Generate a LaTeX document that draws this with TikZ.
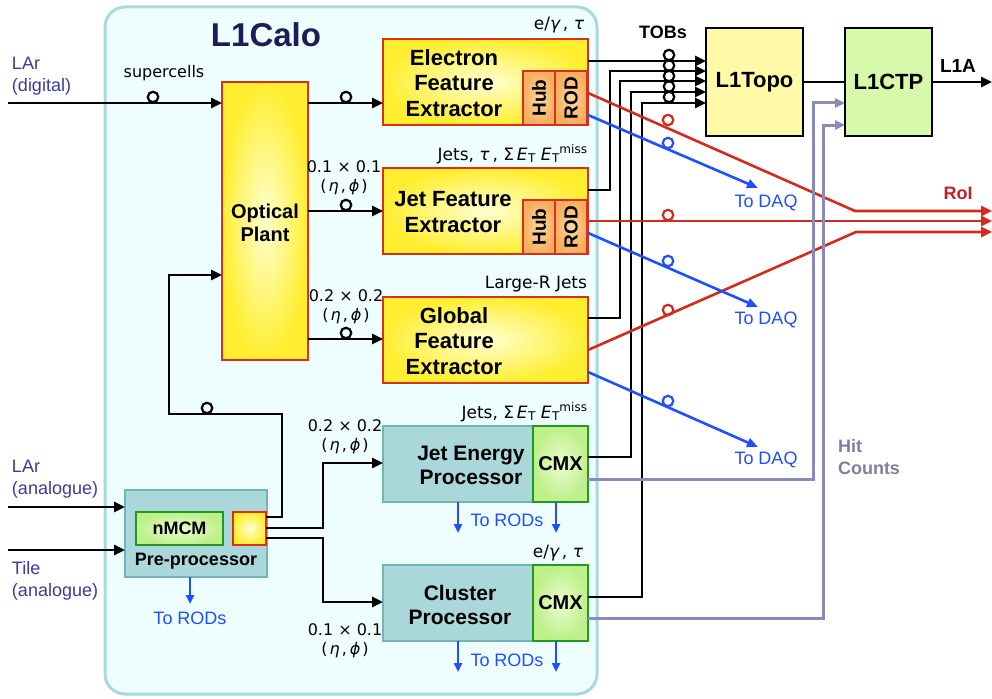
\documentclass[tikz,border=0pt]{standalone}
\usepackage{fontspec}
\setmainfont{Liberation Sans}
\newfontfamily\dvs{DejaVu Sans}
\usetikzlibrary{arrows.meta,calc}
\definecolor{calofill}{HTML}{EEFEFF}
\definecolor{calodraw}{HTML}{A8DADD}
\definecolor{ylight}{HTML}{FFFFD2}
\definecolor{ydark}{HTML}{FFEE30}
\definecolor{redb}{HTML}{D9301E}
\definecolor{olight}{HTML}{FCD9A0}
\definecolor{odark}{HTML}{F5AE5E}
\definecolor{cteal}{HTML}{A9D7DA}
\definecolor{tealdraw}{HTML}{72B5B9}
\definecolor{glight}{HTML}{EAFDCC}
\definecolor{gdark}{HTML}{BDEF8A}
\definecolor{gdraw}{HTML}{229922}
\definecolor{topofill}{HTML}{FFF9A8}
\definecolor{ctpfill}{HTML}{D6F9AC}
\definecolor{navy}{HTML}{1C1C56}
\definecolor{inblue}{HTML}{3B3B9B}
\definecolor{daqblue}{HTML}{1F4FFF}
\definecolor{redl}{HTML}{D42A1E}
\definecolor{roitext}{HTML}{BF2127}
\definecolor{hitl}{HTML}{8B8BBB}
\definecolor{hitt}{HTML}{7E7EA2}
\newcommand\ET{{\itshape E}\kern0.5pt\raisebox{-0.3ex}{\fontsize{12}{12}\selectfont T}}
\newcommand\ETmiss{{\itshape E}\kern0.5pt\raisebox{-0.3ex}{\fontsize{12}{12}\selectfont T}\raisebox{0.75ex}{\fontsize{12}{12}\selectfont miss}}
\newcommand\etaphi{(\kern2pt{\itshape η}\kern2pt,\kern3pt{\itshape ϕ}\kern2pt)}
\begin{document}
\begin{tikzpicture}[x=1pt,y=-1pt,
  every node/.style={inner sep=0pt,outer sep=0pt},
  calobox/.style={draw=calodraw,fill=calofill,line width=3pt,rounded corners=20pt,anchor=north west},
  ybox/.style={draw=redb,line width=2.4pt,inner color=ylight,outer color=ydark,anchor=north west},
  hubbox/.style={draw=redb,line width=1.8pt,inner color=olight,outer color=odark,rotate=90,
     minimum width=54pt,minimum height=32pt,font=\bfseries\fontsize{19}{19}\selectfont},
  tbox/.style={draw=tealdraw,fill=cteal,line width=1.8pt,anchor=north west},
  cmxbox/.style={draw=gdraw,line width=2.4pt,inner color=glight,outer color=gdark,anchor=north west},
  bigbox/.style={draw=black,line width=2pt,anchor=north west,font=\bfseries\fontsize{22}{22}\selectfont},
  btxt/.style={font=\bfseries\fontsize{#1}{#1}\selectfont,align=center},
  mtxt/.style={font=\bfseries\fontsize{22}{25.5}\selectfont,align=center},
  ptxt/.style={font=\bfseries\fontsize{21}{24}\selectfont,align=center},
  ltxt/.style={font=\dvs\fontsize{17}{19}\selectfont,anchor=base east},
  stxt/.style={font=\dvs\fontsize{16}{19}\selectfont,align=center},
  intxt/.style={font=\fontsize{18}{22}\selectfont,align=left,text=inblue,anchor=west},
  daqtxt/.style={font=\fontsize{18}{22}\selectfont,text=daqblue},
  oc/.style={circle,draw,line width=2.2pt,minimum size=10.5pt},
  blk/.style={line width=2.6pt,draw=black},
  arr/.style={-{Triangle[length=11pt,width=10pt]}},
  redline/.style={line width=2.6pt,draw=redl,-{Triangle[length=11pt,width=10pt]}},
  blueline/.style={line width=2.6pt,draw=daqblue,-{Triangle[length=11pt,width=9pt]}},
  rodarr/.style={line width=2.4pt,draw=daqblue,-{Triangle[length=9pt,width=8pt]}},
  hitline/.style={line width=3pt,draw=hitl,-{Triangle[length=10pt,width=9pt]}}
]
\useasboundingbox (0,0) rectangle (992,698);

% L1Calo frame
\node[calobox,minimum width=492pt,minimum height=687pt] (calo) at (105,7) {};
\node[btxt=33,text=navy] (tcalo) at (266,35) {L1Calo};

% Optical plant
\node[ybox,minimum width=86pt,minimum height=278pt] (op) at (222,82) {};
\node[font=\bfseries\fontsize{20}{23}\selectfont,align=center] (top) at (265,223) {Optical\\Plant};

% Feature extractors
\node[ybox,minimum width=205pt,minimum height=86pt] (efe) at (383,39) {};
\node[hubbox] (efehub) at (539,98) {Hub};
\node[hubbox] (eferod) at (571,98) {ROD};
\node[mtxt] (tefe) at (454,83) {Electron\\Feature\\Extractor};

\node[ybox,minimum width=205pt,minimum height=86pt] (jfe) at (383,168) {};
\node[hubbox] (jfehub) at (539,227) {Hub};
\node[hubbox] (jferod) at (571,227) {ROD};
\node[mtxt] (tjfe) at (453,212) {Jet Feature\\Extractor};

\node[ybox,minimum width=205pt,minimum height=86pt] (gfe) at (383,297) {};
\node[mtxt] (tgfe) at (454,341) {Global\\Feature\\Extractor};

% Processors
\node[tbox,minimum width=150pt,minimum height=76pt] (jep) at (383,426) {};
\node[cmxbox,minimum width=55pt,minimum height=76pt,btxt=20] (jepcmx) at (533,426) {CMX};
\node[ptxt] (tjep) at (471,465) {Jet Energy\\Processor};

\node[tbox,minimum width=150pt,minimum height=76pt] (cp) at (383,565) {};
\node[cmxbox,minimum width=55pt,minimum height=76pt,btxt=20] (cpcmx) at (533,565) {CMX};
\node[ptxt] (tcp) at (460,605) {Cluster\\Processor};

% Pre-processor
\node[tbox,minimum width=142pt,minimum height=87pt] (ppr) at (125,490) {};
\node[cmxbox,minimum width=87pt,minimum height=33pt,btxt=18] (nmcm) at (136,512) {nMCM};
\node[ybox,minimum width=33pt,minimum height=33pt] (ppy) at (233,512) {};
\node[btxt=18] (tppr) at (196,561) {Pre-processor};

% L1Topo / L1CTP
\node[bigbox,fill=topofill,minimum width=97pt,minimum height=108pt] (topo) at (706,28) {L1Topo};
\node[bigbox,fill=ctpfill,minimum width=87pt,minimum height=108pt] (ctp) at (845,28) {L1CTP};

% Labels
\node[intxt] (tlardig) at (12,76) {LAr\\(digital)};
\node[intxt] (tlarana) at (12,479) {LAr\\(analogue)};
\node[intxt] (ttile) at (12,581) {Tile\\(analogue)};
\node[font=\dvs\fontsize{16}{18}\selectfont] (tsc) at (164,73) {supercells};
\node[ltxt] (lefe) at (584,30) {e/{\itshape γ}\,, {\itshape τ}};
\node[ltxt] (ljfe) at (587,160) {Jets, {\itshape τ}\,, Σ\,\ET\ \ETmiss};
\node[ltxt] (lgfe) at (587,288) {Large-R Jets};
\node[ltxt] (ljep) at (587,418) {Jets, Σ\,\ET\ \ETmiss};
\node[ltxt] (lcp) at (583,557) {e/{\itshape γ}\,, {\itshape τ}};
\node[stxt] (g1) at (344,178) {0.1 × 0.1\\\etaphi};
\node[stxt] (g2) at (346,307) {0.2 × 0.2\\\etaphi};
\node[stxt] (g3) at (345,437) {0.2 × 0.2\\\etaphi};
\node[stxt] (g4) at (345,641) {0.1 × 0.1\\\etaphi};
\node[btxt=18] (ttobs) at (663,32) {TOBs};
\node[btxt=19] (tl1a) at (958,66) {L1A};
\node[btxt=18,text=roitext] (troi) at (958,193) {RoI};
\node[daqtxt] (daqt1) at (766,203) {To DAQ};
\node[daqtxt] (daqt2) at (766,320) {To DAQ};
\node[daqtxt] (daqt3) at (766,460) {To DAQ};
\node[daqtxt] (rodt1) at (190,618) {To RODs};
\node[daqtxt] (rodt2) at (507,520) {To RODs};
\node[daqtxt] (rodt3) at (507,660) {To RODs};
\node[font=\bfseries\fontsize{18}{22}\selectfont,align=left,text=hitt,anchor=west] (thit) at (838,457) {Hit\\Counts};

% coordinates
\coordinate (lardig) at (8,103);
\coordinate (larana) at (8,507);
\coordinate (tilein) at (8,550);
\coordinate (opin) at ([yshift=-21pt]op.north west);
\coordinate (opfb) at ([yshift=-193pt]op.north west);
\coordinate (efein) at ([yshift=-64pt]efe.north west);
\coordinate (jfein) at ([yshift=-43pt]jfe.north west);
\coordinate (gfein) at ([yshift=-42pt]gfe.north west);
\coordinate (jepin) at ([yshift=-37pt]jep.north west);
\coordinate (cpin) at ([yshift=-37pt]cp.north west);
\coordinate (pprin1) at ([yshift=-17pt]ppr.north west);
\coordinate (pprin2) at ([yshift=-60pt]ppr.north west);
\coordinate (tob1) at ([yshift=-33pt]topo.north west);
\coordinate (tob2) at ([yshift=-43pt]topo.north west);
\coordinate (tob3) at ([yshift=-53pt]topo.north west);
\coordinate (tob4) at ([yshift=-64pt]topo.north west);
\coordinate (tob5) at ([yshift=-75pt]topo.north west);
\coordinate (ctp1) at ([yshift=-75pt]ctp.north west);
\coordinate (ctp2) at ([yshift=-97pt]ctp.north west);
\coordinate (l1aend) at (992,82);
\coordinate (rb1) at (855,211);
\coordinate (rb3) at (856,232);
\coordinate (roi1) at (992,211);
\coordinate (roi2) at (992,221);
\coordinate (roi3) at (992,232);
\coordinate (daq1) at (758,188);
\coordinate (daq2) at (758,307);
\coordinate (daq3) at (758,447);

% inputs
\draw[blk,arr] (lardig) -- (opin);
\draw[blk,arr] (larana) -- (pprin1);
\draw[blk,arr] (tilein) -- (pprin2);

% optical plant outputs
\draw[blk,arr] (op.east |- efein) -- (efein);
\draw[blk,arr] (op.east |- jfein) -- (jfein);
\draw[blk,arr] (op.east |- gfein) -- (gfein);

% pre-processor outputs
\draw[blk,arr] ([yshift=-5pt]ppy.north east) -- ++(16,0) -- ++(0,-103) -- ++(-113,0) |- (opfb);
\draw[blk,arr] ([yshift=-16pt]ppy.north east) -- ++(57,0) |- (jepin);
\draw[blk,arr] ([yshift=-26pt]ppy.north east) -- ++(57,0) |- (cpin);

% TOBs
\draw[blk,arr] (efe.east |- tob1) -- (tob1);
\draw[blk,arr] ([yshift=-22pt]jfe.north east) -- ++(22,0) |- (tob2);
\draw[blk,arr] ([yshift=-21pt]gfe.north east) -- ++(32,0) |- (tob3);
\draw[blk,arr] ([yshift=-31pt]jepcmx.north east) -- ++(43,0) |- (tob4);
\draw[blk,arr] ([yshift=-32pt]cpcmx.north east) -- ++(54,0) |- (tob5);

% L1Topo -> L1CTP -> L1A
\draw[blk] (topo.east) -- (ctp.west);
\draw[blk,arr] (ctp.east |- l1aend) -- (l1aend);

% RoI
\draw[redline] ([yshift=-54pt]efe.north east) -- (rb1) -- (roi1);
\draw[redline] ([yshift=-53pt]jfe.north east) -- (roi2);
\draw[redline] ([yshift=-53pt]gfe.north east) -- (rb3) -- (roi3);

% To DAQ
\draw[blueline] ([yshift=-76pt]efe.north east) -- (daq1);
\draw[blueline] ([yshift=-65pt]jfe.north east) -- (daq2);
\draw[blueline] ([yshift=-75pt]gfe.north east) -- (daq3);

% Hit counts
\draw[hitline] ([yshift=-53pt]jepcmx.north east) -- ++(225,0) |- (ctp1);
\draw[hitline] ([yshift=-53pt]cpcmx.north east) -- ++(235,0) |- (ctp2);

% To RODs
\draw[rodarr] ([xshift=65pt]ppr.south west) -- ++(0,27);
\draw[rodarr] ([xshift=75pt]jep.south west) -- ++(0,31);
\draw[rodarr] ([xshift=23pt]jepcmx.south west) -- ++(0,31);
\draw[rodarr] ([xshift=75pt]cp.south west) -- ++(0,31);
\draw[rodarr] ([xshift=23pt]cpcmx.south west) -- ++(0,31);

% circles
\node[oc] (c1) at (153,97) {};
\node[oc] (c2) at (346,97) {};
\node[oc] (c3) at (346,205) {};
\node[oc] (c4) at (346,333) {};
\node[oc] (c5) at (207,408) {};
\node[oc] (ct1) at (669,55) {};
\node[oc] (ct2) at (669,65.5) {};
\node[oc] (ct3) at (669,76) {};
\node[oc] (ct4) at (669,86.5) {};
\node[oc] (ct5) at (669,97) {};
\node[oc,draw=redl] (cr1) at (668,120) {};
\node[oc,draw=redl] (cr2) at (668,215) {};
\node[oc,draw=redl] (cr3) at (668,310) {};
\node[oc,draw=daqblue] (cb1) at (668,143) {};
\node[oc,draw=daqblue] (cb2) at (668,261) {};
\node[oc,draw=daqblue] (cb3) at (668,401) {};
\end{tikzpicture}
\end{document}
